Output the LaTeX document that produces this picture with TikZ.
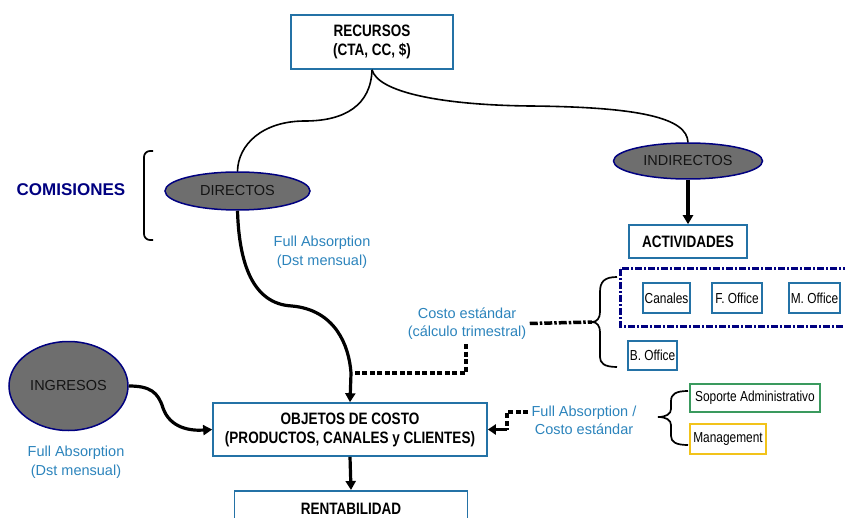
\documentclass[tikz,border=0pt]{standalone}
\usepackage{fontspec}
\setmainfont{Liberation Sans}
\newfontfamily\narrowfont[FakeStretch=0.82]{Liberation Sans}
\usetikzlibrary{shapes.geometric,arrows.meta}

\definecolor{boxblue}{HTML}{2472A6}
\definecolor{labelblue}{HTML}{2C84BC}
\definecolor{navy}{HTML}{000080}
\definecolor{ovalgray}{HTML}{6E6E6E}
\definecolor{boxgreen}{HTML}{3A9A5E}
\definecolor{boxyellow}{HTML}{F2C31A}

\tikzset{
  bigbox/.style={draw=boxblue, line width=1.6pt, fill=white, align=center,
    inner sep=0pt, font=\narrowfont\bfseries\fontsize{16.5}{19}\selectfont},
  smallbox/.style={draw=boxblue, line width=1.4pt, fill=white, inner sep=0pt,
    font=\narrowfont\fontsize{14.5}{16}\selectfont},
  oval/.style={ellipse, draw=navy, line width=1.5pt, fill=ovalgray, inner sep=0pt,
    font=\fontsize{14.5}{17}\selectfont, text=black!92},
  flowlabel/.style={align=center, text=labelblue, font=\fontsize{14.5}{18.5}\selectfont},
  tree/.style={line width=1.6pt},
  flow/.style={line width=3.2pt, -{Triangle[length=9pt,width=10pt]}},
  dashflow/.style={line width=3.5pt, dash pattern=on 5pt off 2.5pt},
  dotdashflow/.style={line width=3.5pt, dash pattern=on 8pt off 2pt on 2.5pt off 2pt},
  bracket/.style={line width=1.7pt}
}

\begin{document}
\begin{tikzpicture}[x=1pt, y=-1pt]
  \useasboundingbox (0,0) rectangle (845,518);
  \clip (0,0) rectangle (845,518);

  % top level
  \node[bigbox, minimum width=162pt, minimum height=54pt] (rec) at (372,42)
    {RECURSOS\\(CTA, CC, \$)};

  % cost classes
  \node[oval, minimum width=145pt, minimum height=38pt] (dir) at (237.5,191) {DIRECTOS};
  \node[oval, minimum width=149pt, minimum height=36pt] (ind) at (688,161) {INDIRECTOS};
  \node[oval, minimum width=119pt, minimum height=89pt] (ing) at (68.5,386) {INGRESOS};

  \node[text=navy, font=\bfseries\fontsize{17}{20}\selectfont] (com) at (71,190) {COMISIONES};

  % activities
  \node[bigbox, minimum width=118pt, minimum height=33pt] (act) at (688,241.5) {ACTIVIDADES};
  \draw[navy, line width=3pt, dash pattern=on 7pt off 2pt on 2pt off 2pt]
    (620,269) rectangle (860,326);
  \node[smallbox, minimum width=47pt, minimum height=30pt] (can) at (666.5,298) {Canales};
  \node[smallbox, minimum width=50pt, minimum height=30pt] (fof) at (737,298) {F. Office};
  \node[smallbox, minimum width=51pt, minimum height=30pt] (mof) at (814.5,298) {M. Office};
  \node[smallbox, minimum width=49pt, minimum height=29pt] (bof) at (652.5,355.5) {B. Office};

  % support areas
  \node[smallbox, draw=boxgreen, minimum width=130pt, minimum height=28pt] (sop) at (755,398)
    {Soporte Administrativo};
  \node[smallbox, draw=boxyellow, minimum width=76pt, minimum height=30pt] (man) at (728,439)
    {Management};

  % cost objects and result
  \node[bigbox, minimum width=274pt, minimum height=53pt] (obj) at (350,429.5)
    {OBJETOS DE COSTO\\(PRODUCTOS, CANALES y CLIENTES)};
  \node[bigbox, anchor=north, minimum width=233pt, text height=18pt, text depth=40pt,
    inner ysep=6pt] (rent) at (351,490) {RENTABILIDAD};

  % labels
  \node[flowlabel] (fa1) at (322,252) {Full Absorption\\(Dst mensual)};
  \node[flowlabel] (fa2) at (76,462) {Full Absorption\\(Dst mensual)};
  \node[flowlabel] (cst) at (467,323.5) {Costo estándar\\(cálculo trimestral)};
  \node[flowlabel] (fa3) at (584,420.5) {Full Absorption /\\Costo estándar};

  % brackets and braces
  \draw[bracket, rounded corners=6pt] (153,151) -- (144,151) -- (144,240) -- (153,240);
  \coordinate (btip) at (592,322);
  \draw[bracket] (617,277) .. controls (604,277) and (600,282) .. (600,292)
    -- (600,312) .. controls (600,318) and (597,322) .. (btip)
    .. controls (597,322) and (600,326) .. (600,332)
    -- (600,357) .. controls (600,363) and (604,367) .. (617,367);
  \draw[bracket] (688,391) .. controls (676,391) and (671,394) .. (671,401)
    -- (671,409) .. controls (671,414) and (666,417) .. (658,417)
    .. controls (666,417) and (671,420) .. (671,425)
    -- (671,436) .. controls (671,442) and (676,445) .. (688,445);

  % resource split
  \draw[tree] (rec.south) .. controls (371,105) and (345,121) .. (305,121)
    .. controls (262,121) and (238,145) .. (dir.north);
  \draw[tree] (rec.south) .. controls (378,92) and (440,105) .. (530,106)
    .. controls (640,107) and (687,118) .. (ind.north);

  % flows
  \draw[flow] (ind.south) -- (act.north);
  \coordinate (join) at (351,373);
  \draw[flow] (dir.south) .. controls (239,262) and (252,304) .. (292,306)
    .. controls (335,310) and (349,345) .. (join) -- (obj.north);
  \draw[flow] (ing.east) .. controls (150,386) and (158,392) .. (163,408)
    .. controls (170,428) and (190,431) .. (obj.west);
  \draw[flow] (obj.south) -- (rent.north);

  \draw[dashflow] (cst.south) ++(-1,1) |- (join);
  \draw[dotdashflow] (cst.east) -- (btip);
  \coordinate (bend) at (507,412);
  \draw[dashflow] (fa3.west |- bend) -- (bend) -- (507,429.5);
  \draw[line width=3.2pt, -{Triangle[length=8pt,width=10pt]}] (507,429.5) -- (obj.east);
\end{tikzpicture}
\end{document}
